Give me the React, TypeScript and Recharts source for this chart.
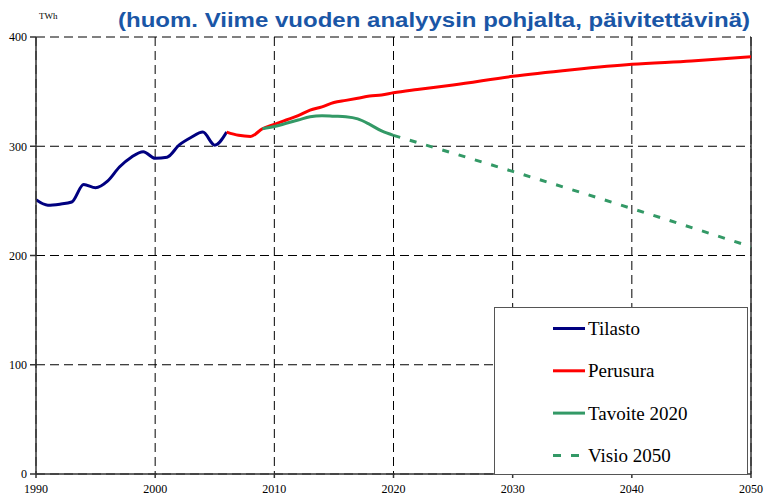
import React from 'react';
import { LineChart, Line, XAxis, YAxis, CartesianGrid, Legend, ReferenceLine } from 'recharts';

const tilastoYears = [1990, 1991, 1992, 1993, 1994, 1995, 1996, 1997, 1998, 1999, 2000, 2001, 2002, 2003, 2004, 2005, 2006];
const tilasto = [251, 246, 247, 249, 265, 262, 268, 281, 290, 295, 289, 290, 301, 308, 313, 301, 313];

const perusuraYears = [2006, 2007, 2008, 2009, 2010, 2011, 2012, 2013, 2014, 2015, 2016, 2017, 2018, 2019, 2020, 2022, 2025, 2030, 2035, 2040, 2045, 2050];
const perusura = [313, 310, 309, 316, 320, 324, 328, 333, 336, 340, 342, 344, 346, 347, 349, 352, 356, 364, 370, 375, 378, 382];

const tavoiteYears = [2009, 2010, 2011, 2012, 2013, 2014, 2015, 2016, 2017, 2018, 2019, 2020];
const tavoite = [316, 318, 321, 324, 327, 328, 327.5, 327, 325, 320, 314, 310];

const visioYears = [2020, 2030, 2040, 2050];
const visio = [310, 277, 243, 208];

const xTicks = [1990, 2000, 2010, 2020, 2030, 2040, 2050];
const yTicks = [0, 100, 200, 300, 400];

const titleText = '(huom. Viime vuoden analyysin pohjalta, päivitettävinä)';
const unitText = 'TWh';

type Series = { key: string; name: string; years: number[]; values: number[]; color: string; dash?: string };
const series: Series[] = [
  { key: 'tilasto', name: 'Tilasto', years: tilastoYears, values: tilasto, color: '#000080' },
  { key: 'perusura', name: 'Perusura', years: perusuraYears, values: perusura, color: '#FF0000' },
  { key: 'tavoite', name: 'Tavoite 2020', years: tavoiteYears, values: tavoite, color: '#339966' },
  { key: 'visio', name: 'Visio 2050', years: visioYears, values: visio, color: '#339966', dash: '7 10' },
];

const allYears = Array.from(new Set(series.flatMap((s) => s.years))).sort((a, b) => a - b);
const data = allYears.map((year) => {
  const row: Record<string, number | null> = { year };
  series.forEach((s) => {
    const i = s.years.indexOf(year);
    row[s.key] = i >= 0 ? s.values[i] : null;
  });
  return row;
});

const serif = 'Liberation Serif';

const LegendBox = (props: any) => {
  const payload = [...(props.payload || [])].sort(
    (a: any, b: any) => series.findIndex((s) => s.name === a.value) - series.findIndex((s) => s.name === b.value)
  );
  return (
    <svg width={254} height={168} style={{ display: 'block' }}>
      <rect x={0.5} y={0.5} width={253} height={167} fill="#fff" stroke="#555" strokeWidth={1} />
      {payload.map((p: any, i: number) => {
        const cy = 21.5 + i * 42.3;
        const s = series.find((q) => q.name === p.value);
        return (
          <g key={p.value}>
            <line
              x1={59}
              y1={cy}
              x2={91}
              y2={cy}
              stroke={p.color}
              strokeWidth={3}
              strokeDasharray={s && s.dash ? '8 10' : undefined}
            />
            <text x={94} y={cy + 6.5} fontFamily={serif} fontSize={19} fill="#000">
              {p.value}
            </text>
          </g>
        );
      })}
    </svg>
  );
};

export default function App() {
  return (
    <div style={{ position: 'absolute', left: 0, top: 0, width: 765, height: 499, background: '#fff', overflow: 'hidden' }}>
      <LineChart width={765} height={499} data={data} margin={{ top: 37, right: 14, left: 0, bottom: 0 }}>
        <CartesianGrid stroke="#000" strokeDasharray="9 5" strokeWidth={1} />
        <XAxis
          dataKey="year"
          type="number"
          domain={[1990, 2050]}
          ticks={xTicks}
          height={25}
          tickSize={4}
          tickMargin={6}
          stroke="#333"
          strokeWidth={1.5}
          tick={{ fontFamily: serif, fontSize: 12, fill: '#000' }}
          allowDataOverflow
        />
        <YAxis
          type="number"
          domain={[0, 400]}
          ticks={yTicks}
          width={36}
          tickSize={6}
          tickMargin={3}
          stroke="#333"
          strokeWidth={1.5}
          tick={{ fontFamily: serif, fontSize: 12, fill: '#000' }}
          allowDataOverflow
        />
        <ReferenceLine x={2050} stroke="#333" strokeWidth={1.5} />
        {series.map((s) => (
          <Line
            key={s.key}
            dataKey={s.key}
            name={s.name}
            type="monotone"
            stroke={s.color}
            strokeWidth={3}
            strokeDasharray={s.dash}
            dot={false}
            activeDot={false}
            connectNulls
            isAnimationActive={false}
          />
        ))}
        <Legend
          layout="vertical"
          align="center"
          verticalAlign="middle"
          content={<LegendBox />}
          wrapperStyle={{ position: 'absolute', left: 494, top: 307, width: 254, height: 168 }}
        />
      </LineChart>
      <svg width={765} height={40} style={{ position: 'absolute', left: 0, top: 0 }}>
        <text
          x={118}
          y={27}
          textLength={632}
          lengthAdjust="spacingAndGlyphs"
          fontFamily="Liberation Sans"
          fontWeight="bold"
          fontSize={20}
          fill="#1A56A6"
        >
          {titleText}
        </text>
        <text x={39} y={19} fontFamily={serif} fontSize={9} fill="#000">
          {unitText}
        </text>
      </svg>
    </div>
  );
}
